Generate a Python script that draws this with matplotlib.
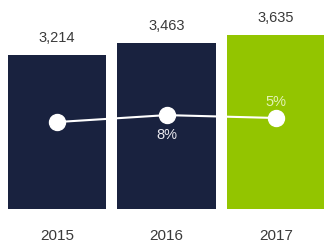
import matplotlib.pyplot as plt

plt.rcParams['font.family'] = ['Liberation Sans', 'DejaVu Sans']

years = ['2015', '2016', '2017']
values = [3214, 3463, 3635]
value_labels = ['3,214', '3,463', '3,635']
# level of the white growth line, in bar units
line_levels = [1815, 1960, 1900]
growth_labels = ['', '8%', '5%']

navy = '#19223f'
green = '#93c500'
bar_colors = [navy, navy, green]

fig = plt.figure(figsize=(3.24, 2.5), dpi=100)
ax = fig.add_axes([0, 0.164, 1, 0.7664])

x = range(len(years))
ax.bar(x, values, width=0.9, color=bar_colors)
ax.plot(x, line_levels, color='white', linewidth=1.5, marker='o',
        markersize=11.5, markerfacecolor='white', markeredgecolor='white', zorder=3)

for i, (v, lab) in enumerate(zip(values, value_labels)):
    ax.text(i, v + 350, lab, ha='center', va='center', fontsize=10.5, color='#3a3a3a')
    ax.text(i, -560, years[i], ha='center', va='center', fontsize=11, color='#3a3a3a')

# growth labels: below the marker for 2016, above for 2017
ax.text(1, line_levels[1] - 410, growth_labels[1], ha='center', va='center',
        fontsize=10.5, color='#e8e8ee')
ax.text(2, line_levels[2] + 340, growth_labels[2], ha='center', va='center',
        fontsize=10.5, color='#e2f2b4')

ax.set_xlim(-0.5205, 2.438)
ax.set_ylim(0, 4000)
ax.axis('off')

fig.savefig('out.png', dpi=100)
